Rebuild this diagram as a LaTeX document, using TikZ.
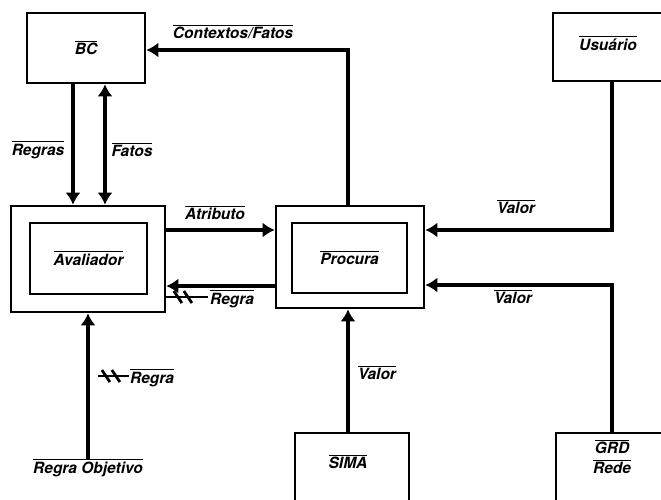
\documentclass[tikz,border=0pt]{standalone}
\usepackage{fontspec}
\setmainfont{TeX Gyre Heros}
\usetikzlibrary{arrows.meta}
\newcommand\lblfont{\fontsize{15.5}{18}\selectfont\bfseries\itshape}
\newcommand\ovl[1]{\vbox{\hrule height 1pt\kern 1.6pt\hbox{#1}}}
\tikzset{bigtip/.tip={Latex[length=12pt,width=15pt]}}
\begin{document}
\begin{tikzpicture}[x=1pt,y=-1pt,
  lbl/.style={inner sep=0pt, font=\lblfont},
  box/.style={draw, line width=2.6pt, inner sep=0pt, font=\lblfont},
  conn/.style={line width=4pt, -bigtip},
  crossmark/.style={line width=2.8pt},
]
\fill[white] (0,0) rectangle (661,499);
\clip (0,0) rectangle (661,499);
% boxes
\node[box, minimum width=118pt, minimum height=70pt] (bc) at (86,48) {\ovl{BC}};
\node[box, minimum width=154pt, minimum height=106pt] (aval) at (88,259) {};
\node[box, minimum width=117pt, minimum height=71pt] (avali) at (88.5,258.5) {\ovl{Avaliador}};
\node[box, minimum width=148pt, minimum height=102pt] (proc) at (350,257) {};
\node[box, minimum width=115pt, minimum height=70pt] (proci) at (349.5,258) {\ovl{Procura}};
\node[box, minimum width=122pt, minimum height=68pt] (usu) at (614,47) {};
\node[lbl] (usut) at (608,43) {\ovl{Usuário}};
\node[box, minimum width=114pt, minimum height=78pt] (sima) at (352,472) {};
\node[lbl] (simat) at (348,462) {\ovl{SIMA}};
\node[box, minimum width=124pt, minimum height=78pt] (grd) at (618,472) {};
\node[lbl] (grdt) at (612,447) {\ovl{GRD}};
\node[lbl] (redet) at (612,467) {\ovl{Rede}};
% labels
\node[lbl] (ctx) at (233,32) {\ovl{Contextos/Fatos}};
\node[lbl] (regras) at (38,150) {\ovl{Regras}};
\node[lbl] (fatos) at (132,150) {\ovl{Fatos}};
\node[lbl] (atrib) at (215,213) {\ovl{Atributo}};
\node[lbl] (regra1) at (232,299) {\ovl{Regra}};
\node[lbl] (valor1) at (516,207) {\ovl{Valor}};
\node[lbl] (valor2) at (513,297) {\ovl{Valor}};
\node[lbl] (valor3) at (377,373) {\ovl{Valor}};
\node[lbl] (regra2) at (152,378) {\ovl{Regra}};
\node[lbl] (obj) at (88,468) {\ovl{Regra Objetivo}};
% helper coordinates
\coordinate (xa) at (73,0);
\coordinate (xb) at (105,0);
\coordinate (xc) at (348,0);
\coordinate (xd) at (612,0);
\coordinate (xe) at (88,0);
\coordinate (ya) at (0,230);
\coordinate (yb) at (0,286);
\coordinate (yc) at (0,50);
\coordinate (yd) at (0,285);
% connectors
\draw[conn] (proc.north -| xc) |- (bc.east |- yc);
\draw[conn] (bc.south -| xa) -- (aval.north -| xa);
\draw[line width=4pt, bigtip-bigtip] (bc.south -| xb) -- (aval.north -| xb);
\draw[conn] (aval.east |- ya) -- (proc.west |- ya);
\draw[conn] (proc.west |- yb) -- (aval.east |- yb);
\draw[conn] (usu.south -| xd) |- (proc.east |- ya);
\draw[conn] (grd.north -| xd) |- (proc.east |- yd);
\draw[conn] (sima.north -| xc) -- (proc.south -| xc);
\draw[conn] (obj.north -| xe) -- (aval.south -| xe);
% crossed markers
\draw[crossmark] ([xshift=-44pt,yshift=2pt]regra1.west) -- ([xshift=-2pt,yshift=2pt]regra1.west);
\draw[crossmark] ([xshift=-36pt,yshift=8pt]regra1.west) -- ([xshift=-28pt,yshift=-4pt]regra1.west);
\draw[crossmark] ([xshift=-26pt,yshift=8pt]regra1.west) -- ([xshift=-18pt,yshift=-4pt]regra1.west);
\draw[crossmark] ([xshift=-32pt,yshift=2pt]regra2.west) -- ([xshift=-1pt,yshift=2pt]regra2.west);
\draw[crossmark] ([xshift=-28pt,yshift=8pt]regra2.west) -- ([xshift=-20pt,yshift=-4pt]regra2.west);
\draw[crossmark] ([xshift=-18pt,yshift=8pt]regra2.west) -- ([xshift=-10pt,yshift=-4pt]regra2.west);
\end{tikzpicture}
\end{document}
